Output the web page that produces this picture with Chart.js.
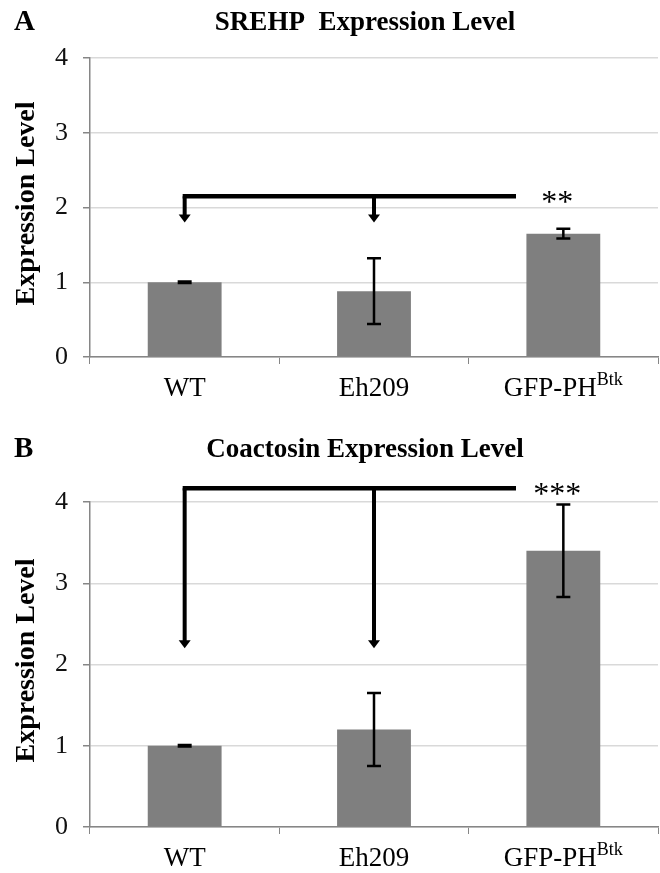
<!DOCTYPE html>
<html>
<head>
<meta charset="utf-8">
<script src="https://cdn.jsdelivr.net/npm/chart.js@4.4.1/dist/chart.umd.min.js"></script>
<style>
  body { margin: 0; background: #fff; }
  canvas { display: block; }
</style>
</head>
<body>
<canvas id="chartA" width="660" height="420"></canvas>
<canvas id="chartB" width="660" height="453"></canvas>
<script>
// categories + values
var categories = ['WT', 'Eh209', 'GFP-PH'];
var superscripts = ['', '', 'Btk'];
var yTicks = [0, 1, 2, 3, 4];

var srehpValues = [1.0, 0.88, 1.65];
var srehpErrors = [0.01, 0.44, 0.065];
var srehpBracket = 2.15;       // height of the horizontal bar
var srehpArrowTip = 1.8;       // where the arrows end
var srehpStars = '**';
var srehpStarsAt = 2.16;

var coactValues = [1.0, 1.2, 3.4];
var coactErrors = [0.01, 0.45, 0.57];
var coactBracket = 4.17;
var coactArrowTip = 2.2;
var coactStars = '***';
var coactStarsAt = 4.17;

var bracketEnd = 1.75;  // in category units, line stops before the stars

var serif = "'Liberation Serif', 'Times New Roman', serif";

var overlay = {
    id: 'overlay',
    afterDraw: function(chart) {
        var o = chart.options.plugins.overlay;
        var ctx = chart.ctx;
        var x = chart.scales.x, y = chart.scales.y;
        var area = chart.chartArea;
        ctx.save();

        // error bars
        ctx.strokeStyle = '#000';
        ctx.lineWidth = 2.5;
        o.values.forEach(function(v, i) {
            var cx = x.getPixelForValue(i);
            var top = y.getPixelForValue(v + o.errors[i]);
            var bot = y.getPixelForValue(v - o.errors[i]);
            ctx.beginPath();
            ctx.moveTo(cx, top); ctx.lineTo(cx, bot);
            ctx.moveTo(cx - 7, top); ctx.lineTo(cx + 7, top);
            ctx.moveTo(cx - 7, bot); ctx.lineTo(cx + 7, bot);
            ctx.stroke();
        });

        // significance bracket
        var by = y.getPixelForValue(o.bracket);
        var tip = y.getPixelForValue(o.arrowTip);
        var step = x.getPixelForValue(1) - x.getPixelForValue(0);
        var x0 = x.getPixelForValue(0);
        var xEnd = x0 + o.bracketEnd * step;
        ctx.lineWidth = 4.5;
        ctx.lineCap = 'butt';
        ctx.beginPath();
        ctx.moveTo(x0 - 2, by); ctx.lineTo(xEnd, by);
        ctx.stroke();
        [0, 1].forEach(function(i) {
            var ax = x.getPixelForValue(i);
            ctx.lineWidth = 4;
            ctx.beginPath();
            ctx.moveTo(ax, by); ctx.lineTo(ax, tip - 6);
            ctx.stroke();
            ctx.beginPath();
            ctx.moveTo(ax - 6, tip - 8); ctx.lineTo(ax + 6, tip - 8); ctx.lineTo(ax, tip);
            ctx.closePath();
            ctx.fillStyle = '#000';
            ctx.fill();
        });

        // stars (glyph sits about half an em above the baseline)
        ctx.fillStyle = '#000';
        ctx.font = '32px ' + serif;
        ctx.textAlign = 'center';
        ctx.textBaseline = 'alphabetic';
        ctx.fillText(o.stars, x.getPixelForValue(2) - 6, y.getPixelForValue(o.starsAt) + 16);

        // x labels with superscript
        categories.forEach(function(c, i) {
            var cx = x.getPixelForValue(i);
            ctx.font = '27px ' + serif;
            var w1 = ctx.measureText(c).width;
            ctx.font = '18px ' + serif;
            var w2 = superscripts[i] ? ctx.measureText(superscripts[i]).width : 0;
            var left = cx - (w1 + w2) / 2;
            ctx.textAlign = 'left';
            ctx.font = '27px ' + serif;
            ctx.fillStyle = '#000';
            ctx.fillText(c, left, area.bottom + 39);
            if (superscripts[i]) {
                ctx.font = '18px ' + serif;
                ctx.fillText(superscripts[i], left + w1, area.bottom + 28);
            }
        });

        // panel letter + title
        ctx.font = 'bold 29px ' + serif;
        ctx.textAlign = 'left';
        ctx.fillText(o.letter, 14, o.titleY);
        ctx.font = 'bold 27px ' + serif;
        ctx.textAlign = 'center';
        ctx.fillText(o.title, 365, o.titleY);

        // y axis title
        ctx.translate(27, (area.top + area.bottom) / 2 - 4);
        ctx.rotate(-Math.PI / 2);
        ctx.font = 'bold 28px ' + serif;
        ctx.textAlign = 'center';
        ctx.textBaseline = 'middle';
        ctx.fillText('Expression Level', 0, 0);
        ctx.restore();
    }
};

function makePanel(id, values, extra, topPad, xHeight) {
    var ctx = document.getElementById(id).getContext('2d');
    return new Chart(ctx, {
        type: 'bar',
        data: {
            labels: categories,
            datasets: [{
                data: values,
                backgroundColor: '#7f7f7f',
                borderWidth: 0,
                barPercentage: 0.39,
                categoryPercentage: 1.0
            }]
        },
        options: {
            responsive: false,
            animation: false,
            layout: { padding: { left: 0, right: 2, top: topPad, bottom: 0 } },
            plugins: {
                legend: { display: false },
                tooltip: { enabled: false },
                overlay: extra
            },
            scales: {
                x: {
                    offset: true,
                    grid: { offset: true, drawOnChartArea: false, color: '#868686', tickLength: 7 },
                    border: { color: '#868686', width: 1.5 },
                    ticks: { color: 'rgba(0,0,0,0)', font: { size: 24, family: serif } },
                    afterFit: function(s) { s.height = xHeight; }
                },
                y: {
                    min: 0,
                    max: yTicks[yTicks.length - 1],
                    afterBuildTicks: function(s) { s.ticks = yTicks.map(function(v) { return { value: v }; }); },
                    grid: { color: '#d9d9d9', tickColor: '#868686', tickLength: 7, lineWidth: 1.5 },
                    border: { color: '#868686', width: 1.5 },
                    ticks: { color: '#111', padding: 15, font: { size: 26, family: serif } },
                    afterFit: function(s) { s.width = 90; }
                }
            }
        },
        plugins: [overlay]
    });
}

makePanel('chartA', srehpValues, {
    values: srehpValues, errors: srehpErrors, bracket: srehpBracket,
    arrowTip: srehpArrowTip, bracketEnd: bracketEnd, stars: srehpStars,
    starsAt: srehpStarsAt, letter: 'A', title: 'SREHP  Expression Level', titleY: 30
}, 58, 63);

makePanel('chartB', coactValues, {
    values: coactValues, errors: coactErrors, bracket: coactBracket,
    arrowTip: coactArrowTip, bracketEnd: bracketEnd, stars: coactStars,
    starsAt: coactStarsAt, letter: 'B', title: 'Coactosin Expression Level', titleY: 37
}, 82, 46);
</script>
</body>
</html>
